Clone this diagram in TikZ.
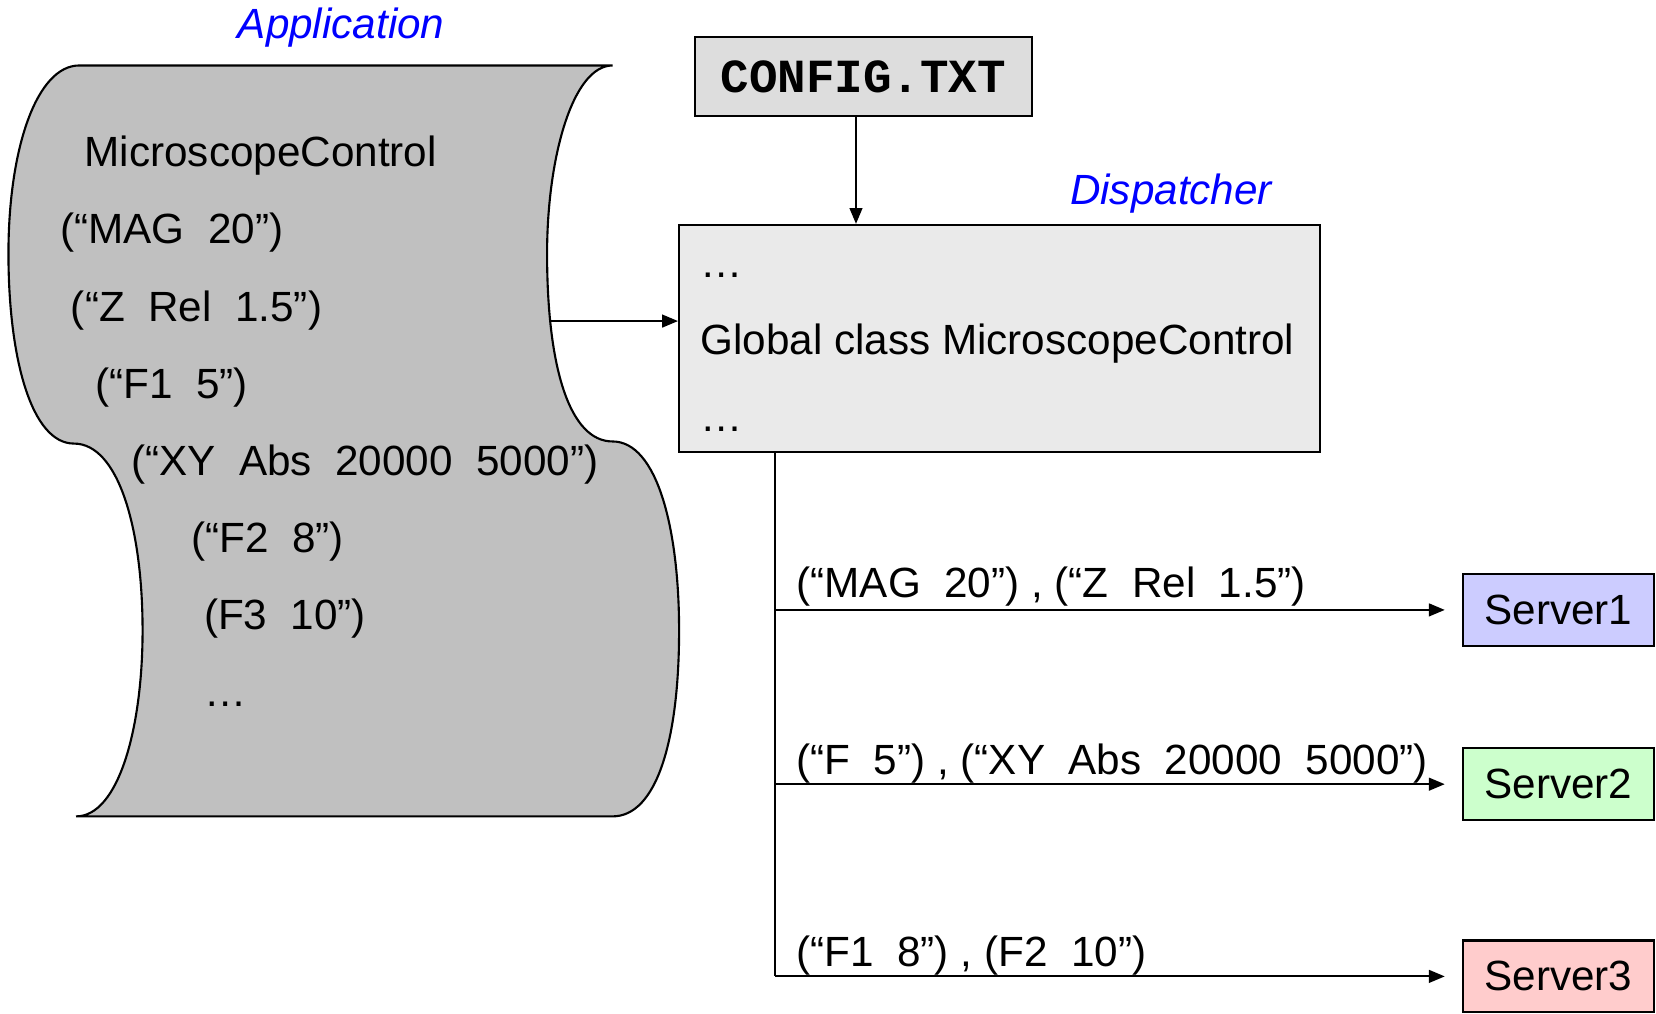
\documentclass[tikz,border=0pt]{standalone}
\usepackage{fontspec}
\setmainfont{Liberation Sans}
\setmonofont{Liberation Mono}
\usepackage{tikz}
\usetikzlibrary{arrows.meta,positioning,calc}
\definecolor{scrollgray}{RGB}{192,192,192}
\definecolor{cfggray}{RGB}{221,221,221}
\definecolor{dispgray}{RGB}{234,234,234}
\definecolor{srvblue}{RGB}{204,204,255}
\definecolor{srvgreen}{RGB}{204,255,204}
\definecolor{srvred}{RGB}{255,204,204}

\begin{document}
\begin{tikzpicture}[
    x=1pt, y=-1pt,
    block/.style={
        rectangle, draw, line width=2pt, inner sep=0pt
    },
    server/.style={
        block, minimum width=181pt, minimum height=68pt,
        font=\fontsize{40}{48}\selectfont
    },
    txt/.style={anchor=base west, inner sep=0pt, font=\fontsize{40}{48}\selectfont},
    title/.style={txt, text=blue, font=\fontsize{40}{48}\selectfont\itshape},
    arr/.style={-{Triangle[length=15pt,width=12pt]}, line width=2pt}
]
    \useasboundingbox (0,0) rectangle (1568,960);

    % Application scroll
    \draw[line width=2pt, fill=scrollgray] (75,62) -- (580,62)
        .. controls (542,62) and (518,150) .. (518,240)
        .. controls (518,350) and (540,418) .. (580,418)
        .. controls (622,418) and (643,500) .. (643,597)
        .. controls (643,700) and (622,773) .. (580,773)
        -- (72,773)
        .. controls (112,773) and (135,690) .. (135,597)
        .. controls (135,500) and (112,420) .. (70,420)
        .. controls (30,420) and (8,340) .. (8,240)
        .. controls (8,140) and (35,62) .. (75,62) -- cycle;
    \coordinate (app) at (520,304);

    \foreach \x/\y/\t [count=\i] in {
        80/158/MicroscopeControl,
        57/231/{(“MAG~~20”)},
        67/304/{(“Z~~Rel~~1.5”)},
        90/377/{(“F1~~5”)},
        124/450/{(“XY~~Abs~~20000~~5000”)},
        181/523/{(“F2~~8”)},
        193/596/{(F3~~10”)},
        193/669/{…}} {
        \node[txt] (cmd\i) at (\x,\y) {\t};
    }

    % Titles
    \node[title] (apptitle) at (225,36) {Application};
    \node[title] (disptitle) at (1013,194) {Dispatcher};

    % Config file and dispatcher
    \node[block,fill=cfggray,minimum width=319pt,minimum height=75pt,
        font=\ttfamily\bfseries\fontsize{45}{50}\selectfont] (cfg) at (817.5,72.5) {CONFIG.TXT};
    \node[block,fill=dispgray,minimum width=607pt,minimum height=215pt] (disp) at (946.5,320.5) {};
    \node[txt] (dline1) at (663,263) {…};
    \node[txt] (dline2) at (663,336) {Global class MicroscopeControl};
    \node[txt] (dline3) at (663,409) {…};

    % Servers
    \node[server,fill=srvblue] (srv1) at (1475.5,577.5) {Server1};
    \node[server,fill=srvgreen] (srv2) at (1475.5,742.5) {Server2};
    \node[server,fill=srvred] (srv3) at (1475.5,924.5) {Server3};

    % Commands sent to each server
    \node[txt] (msg1) at (754,566) {(“MAG~~20”)~, (“Z~~Rel~~1.5”)};
    \node[txt] (msg2) at (754,733) {(“F~~5”)~, (“XY~~Abs~~20000~~5000”)};
    \node[txt] (msg3) at (754,915) {(“F1~~8”)~, (F2~~10”)};

    % Arrows
    \draw[arr] ([xshift=-7pt]cfg.south) -- ([xshift=-7pt]cfg.south |- disp.north);
    \draw[arr] (app) -- (app -| disp.west);
    \coordinate (bus) at ([xshift=92pt]disp.south west);
    \draw[line width=2pt] (bus) -- (bus |- srv3);
    \foreach \s in {srv1,srv2,srv3} {
        \draw[arr,shorten >=16pt] (bus |- \s) -- (\s.west);
    }
\end{tikzpicture}
\end{document}
